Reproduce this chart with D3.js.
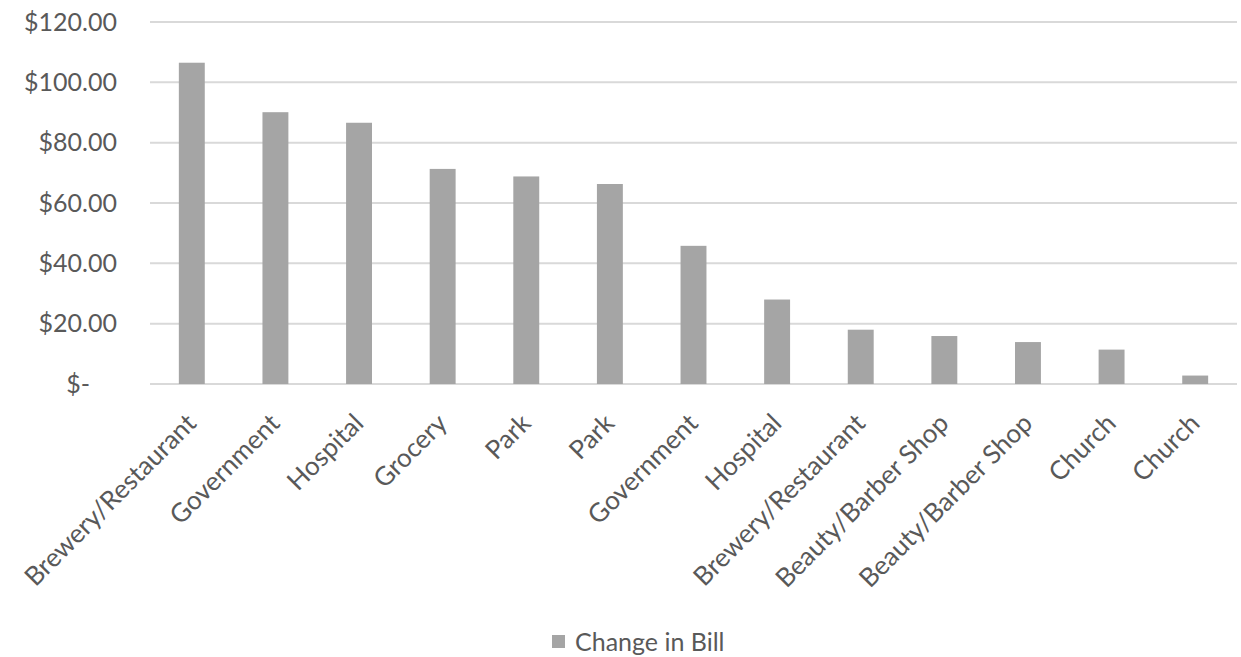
<!DOCTYPE html>
<html>
<head>
<meta charset="utf-8">
<script src="https://cdn.jsdelivr.net/npm/d3@7"></script>
<style>
    body { margin: 0; background: #fff; }
    text { font-family: Lato, "Open Sans", sans-serif; fill: #595959; }
</style>
</head>
<body>
<svg class="chart" width="1241" height="657"></svg>
<script>
const categories = ['Brewery/Restaurant', 'Government', 'Hospital', 'Grocery', 'Park', 'Park',
    'Government', 'Hospital', 'Brewery/Restaurant', 'Beauty/Barber Shop', 'Beauty/Barber Shop',
    'Church', 'Church'];
const changeInBill = [106.5, 90.1, 86.6, 71.3, 68.8, 66.3, 45.8, 28.0, 18.0, 15.9, 13.9, 11.4, 2.8];
const yTicks = [0, 20, 40, 60, 80, 100, 120];
const seriesName = 'Change in Bill';

const width = 1241;
const height = 657;
const margin = {top: 22, right: 4, bottom: 273, left: 150};

const svg = d3.select('.chart');

// keys so duplicate names get their own band
const keys = categories.map((c, i) => i);

const x = d3.scaleBand()
    .domain(keys)
    .range([margin.left, width - margin.right])
    .paddingInner(0.69)
    .paddingOuter(0.345);

const y = d3.scaleLinear()
    .domain([0, 120])
    .range([height - margin.bottom, margin.top]);

// gridlines
svg.append('g')
    .selectAll('line')
    .data(yTicks)
    .enter().append('line')
    .attr('x1', margin.left)
    .attr('x2', width - margin.right)
    .attr('y1', d => y(d))
    .attr('y2', d => y(d))
    .attr('stroke', '#d9d9d9')
    .attr('stroke-width', 2);

// y labels, accounting style
const fmt = d => d === 0 ? '$-' : '$' + d3.format('.2f')(d);
svg.append('g')
    .selectAll('text')
    .data(yTicks)
    .enter().append('text')
    .attr('x', d => d === 0 ? 90 : 117)
    .attr('y', d => y(d))
    .attr('dy', '0.35em')
    .attr('text-anchor', 'end')
    .attr('font-size', 25)
    .text(fmt);

// bars
svg.append('g')
    .selectAll('rect')
    .data(changeInBill)
    .enter().append('rect')
    .attr('x', (d, i) => x(i))
    .attr('y', d => y(d))
    .attr('width', x.bandwidth())
    .attr('height', d => y(0) - y(d))
    .attr('fill', '#a5a5a5');

// category labels at 45 degrees
svg.append('g')
    .selectAll('text')
    .data(categories)
    .enter().append('text')
    .attr('transform', (d, i) => 'translate(' + (x(i) + x.bandwidth() / 2 + 6) + ',' + (y(0) + 41) + ') rotate(-45)')
    .attr('text-anchor', 'end')
    .attr('font-size', 26)
    .text(d => d);

// legend
const legend = svg.append('g').attr('transform', 'translate(552, 635)');
legend.append('rect')
    .attr('width', 13)
    .attr('height', 13)
    .attr('fill', '#a5a5a5');
legend.append('text')
    .attr('x', 23)
    .attr('y', 7)
    .attr('dy', '0.35em')
    .attr('font-size', 25)
    .text(seriesName);
</script>
</body>
</html>
